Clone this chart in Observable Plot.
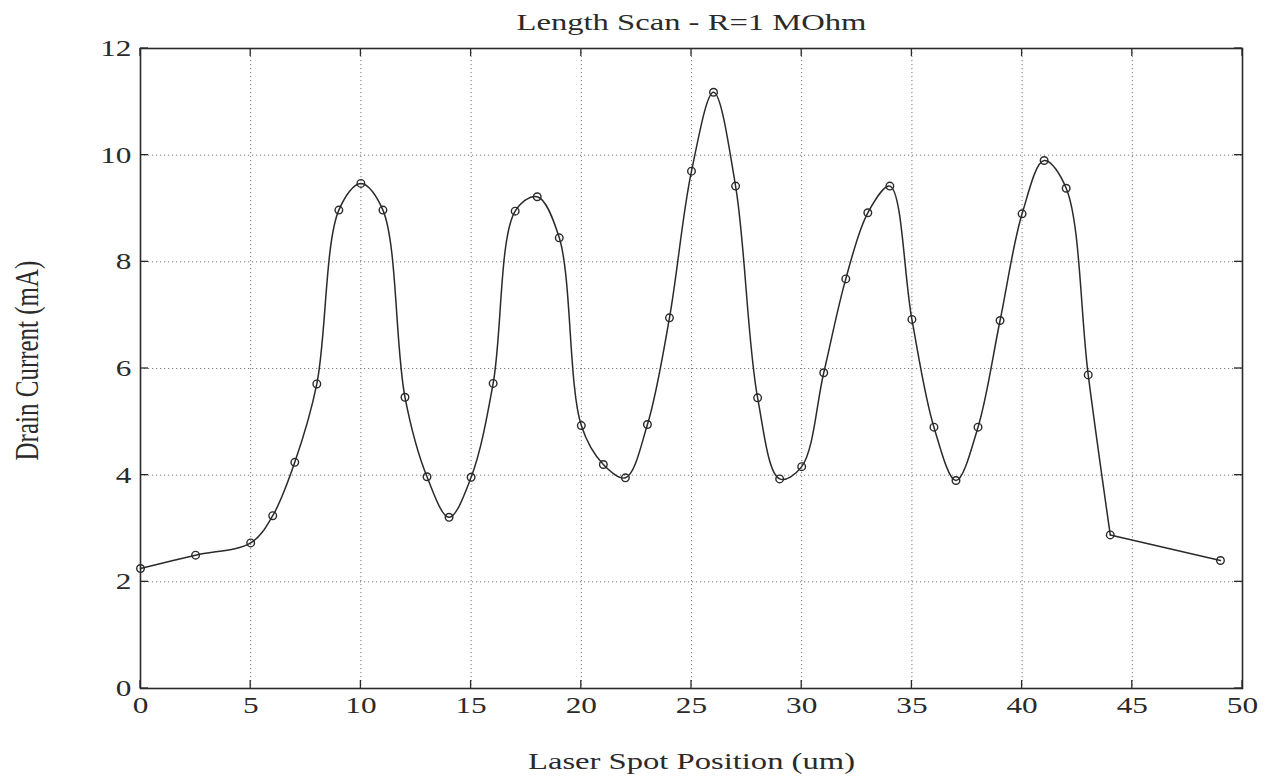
<!DOCTYPE html>
<html>
<head>
<meta charset="utf-8">
<script src="https://cdn.jsdelivr.net/npm/d3@7"></script>
<script src="https://cdn.jsdelivr.net/npm/@observablehq/plot@0.6"></script>
<style>
  html, body { margin: 0; padding: 0; background: #fff; }
  #chart svg { display: block; }
</style>
</head>
<body>
<div id="chart"></div>
<script>
// ---- data ----
const title = "Length Scan - R=1 MOhm";
const xLabel = "Laser Spot Position (um)";
const yLabel = "Drain Current (mA)";

const positions = [0, 2.5, 5, 6, 7, 8, 9, 10, 11, 12, 13, 14, 15, 16, 17, 18, 19, 20, 21, 22, 23, 24, 25, 26, 27, 28, 29, 30, 31, 32, 33, 34, 35, 36, 37, 38, 39, 40, 41, 42, 43, 44, 49];
const current   = [2.25, 2.5, 2.73, 3.24, 4.24, 5.71, 8.97, 9.47, 8.97, 5.46, 3.97, 3.21, 3.96, 5.72, 8.95, 9.22, 8.45, 4.93, 4.2, 3.95, 4.95, 6.95, 9.7, 11.18, 9.42, 5.45, 3.93, 4.16, 5.92, 7.68, 8.92, 9.42, 6.92, 4.9, 3.9, 4.9, 6.9, 8.9, 9.9, 9.38, 5.88, 2.88, 2.4];
// the last segment (44 -> 49 um) is drawn straight in the reference
const smoothEnd = 44;

const xTicks = [0, 5, 10, 15, 20, 25, 30, 35, 40, 45, 50];
const yTicks = [0, 2, 4, 6, 8, 10, 12];

const data = positions.map((p, i) => ({x: p, y: current[i]}));
const smoothPart = data.filter(d => d.x <= smoothEnd);
const straightPart = data.filter(d => d.x >= smoothEnd);

const ink = "#2a2a2a";
const font = "Liberation Serif";
const stretch = 1.36; // the scanned text is wider than it is tall

const chart = Plot.plot({
  width: 1268,
  height: 782,
  marginLeft: 140,
  marginRight: 26,
  marginTop: 48,
  marginBottom: 94,
  style: {background: "#fff", color: ink, fontFamily: font},
  x: {domain: [0, 50]},
  y: {domain: [0, 12]},
  marks: [
    Plot.gridX(xTicks, {stroke: "#777", strokeOpacity: 1, strokeWidth: 1, strokeDasharray: "1.2,2.8"}),
    Plot.gridY(yTicks, {stroke: "#777", strokeOpacity: 1, strokeWidth: 1, strokeDasharray: "1.2,2.8"}),
    Plot.axisX(xTicks, {anchor: "bottom", tickSize: 0, tickPadding: 8, fontSize: 23, fontFamily: font, tickFormat: d3.format("d"), label: null}),
    Plot.axisY(yTicks, {anchor: "left", tickSize: 0, tickPadding: 9, fontSize: 23, fontFamily: font, tickFormat: d3.format("d"), label: null}),
    Plot.line(smoothPart, {x: "x", y: "y", curve: "catmull-rom", stroke: ink, strokeWidth: 1.5}),
    Plot.line(straightPart, {x: "x", y: "y", curve: "linear", stroke: ink, strokeWidth: 1.5}),
    Plot.dot(data, {x: "x", y: "y", r: 3.8, stroke: ink, fill: "none", strokeWidth: 1.4}),
    Plot.frame({stroke: ink, strokeWidth: 1.6}),
    Plot.text([title], {text: d => d, frameAnchor: "top", lineAnchor: "middle", dy: -26, fontSize: 24, fontFamily: font, fill: ink}),
    Plot.text([xLabel], {text: d => d, frameAnchor: "bottom", lineAnchor: "middle", dy: 73, fontSize: 24, fontFamily: font, fill: ink}),
    Plot.text([yLabel], {text: d => d, frameAnchor: "left", textAnchor: "middle", lineAnchor: "middle", dx: -113, dy: -8, rotate: -90, fontSize: 25, fontFamily: font, fill: ink})
  ]
});

document.getElementById("chart").append(chart);

const svg = d3.select(chart);

// widen every text horizontally on screen, like the scanned original
svg.selectAll("text").each(function() {
  const t = this.getAttribute("transform") || "";
  const rotated = /rotate\(/.test(t);
  this.setAttribute("transform", t + (rotated ? ` scale(1,${stretch})` : ` scale(${stretch},1)`));
});

// inward MATLAB-style ticks on all four sides, positioned with the plot's own scales
const sx = chart.scale("x"), sy = chart.scale("y");
const [L, R] = sx.range, [B, T] = sy.range;
const g = svg.append("g").attr("stroke", ink).attr("stroke-width", 1.3);
const len = 8;
xTicks.forEach(t => {
  const px = sx.apply(t);
  g.append("line").attr("x1", px).attr("x2", px).attr("y1", B).attr("y2", B - len);
  g.append("line").attr("x1", px).attr("x2", px).attr("y1", T).attr("y2", T + len);
});
yTicks.forEach(t => {
  const py = sy.apply(t);
  g.append("line").attr("x1", L).attr("x2", L + len).attr("y1", py).attr("y2", py);
  g.append("line").attr("x1", R).attr("x2", R - len).attr("y1", py).attr("y2", py);
});
</script>
</body>
</html>
